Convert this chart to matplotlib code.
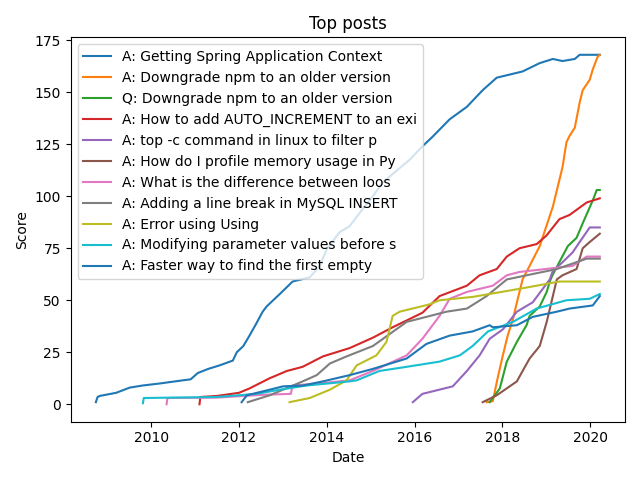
import numpy as np
import pandas as pd
import matplotlib

matplotlib.use("Agg")
import matplotlib.pyplot as plt

# Titles of the posts (truncated as in the source chart)
titles = [
    "A: Getting Spring Application Context",
    "A: Downgrade npm to an older version",
    "Q: Downgrade npm to an older version",
    "A: How to add AUTO_INCREMENT to an exi",
    "A: top -c command in linux to filter p",
    "A: How do I profile memory usage in Py",
    "A: What is the difference between loos",
    "A: Adding a line break in MySQL INSERT",
    "A: Error using Using",
    "A: Modifying parameter values before s",
    "A: Faster way to find the first empty",
]

# Decimal-year time stamps and cumulative scores
spring_t = [2008.74, 2008.78, 2008.83, 2009.2, 2009.51, 2009.8, 2010.2, 2010.72, 2010.9,
            2011.06, 2011.3, 2011.56, 2011.86, 2011.95, 2012.1, 2012.24, 2012.4, 2012.54,
            2012.63, 2012.93, 2013.22, 2013.61, 2013.84, 2014.0, 2014.29, 2014.52, 2014.82,
            2015.05, 2015.27, 2015.89, 2016.18, 2016.41, 2016.8, 2017.19, 2017.55, 2017.87,
            2018.46, 2018.85, 2019.15, 2019.37, 2019.65, 2019.76, 2020.22]
spring_s = [1, 3.5, 4, 5.5, 8, 9, 10, 11.5, 12, 15, 17, 18.7, 21, 25, 28, 33, 39, 44.5,
            47, 53, 59, 61, 66.5, 74.6, 82.7, 85.6, 94, 100, 106.6, 117.6, 124, 128.6, 137,
            143, 151, 157, 160, 164, 166, 165, 166, 168, 168]

npm_a_t = [2017.64, 2017.78, 2017.89, 2018.01, 2018.12, 2018.24, 2018.35, 2018.46, 2018.85,
           2019.15, 2019.37, 2019.46, 2019.53, 2019.65, 2019.76, 2019.83, 2019.99, 2020.06,
           2020.17, 2020.22]
npm_a_s = [1, 1.5, 12.5, 23.5, 33, 41, 50.7, 60, 76, 95, 114, 126, 129, 133, 145, 151,
           156, 161, 167, 168]

npm_q_t = [2017.71, 2017.94, 2018.1, 2018.33, 2018.55, 2018.62, 2018.85, 2019.01, 2019.08,
           2019.14, 2019.49, 2019.69, 2019.83, 2020.06, 2020.15, 2020.22]
npm_q_s = [1, 7.6, 20.5, 30, 38, 42.5, 47, 54, 59, 62, 76, 80, 87, 98, 103, 103]

auto_t = [2011.1, 2011.12, 2011.5, 2012.0, 2012.24, 2012.7, 2013.09, 2013.45, 2013.91,
          2014.52, 2015.05, 2015.5, 2016.18, 2016.57, 2017.19, 2017.48, 2017.87, 2018.1,
          2018.39, 2018.78, 2019.0, 2019.3, 2019.53, 2019.92, 2020.22]
auto_s = [0, 3.5, 4, 5.5, 7.6, 12.5, 16, 18, 23, 27, 32, 37, 44, 52, 57, 62, 65, 71,
          75, 77, 81, 89, 91, 97, 99]

top_t = [2015.96, 2016.18, 2016.87, 2017.19, 2017.48, 2017.71, 2018.01, 2018.33, 2018.69,
         2018.92, 2019.08, 2019.14, 2019.6, 2019.76, 2019.99, 2020.22]
top_s = [1, 5, 8.6, 16, 23.5, 31.5, 36, 44.5, 49, 55.5, 60, 63.6, 73, 78, 85, 85]

mem_t = [2017.55, 2017.87, 2018.33, 2018.46, 2018.62, 2018.85, 2019.01, 2019.15, 2019.24,
         2019.37, 2019.69, 2019.83, 2019.99, 2020.22]
mem_s = [1, 4.3, 11, 16, 22, 28, 39.6, 52, 60, 62, 65, 75, 78, 82]

loos_t = [2010.35, 2010.37, 2011.5, 2012.5, 2013.18, 2013.22, 2013.8, 2014.52, 2015.05,
          2015.82, 2016.18, 2016.57, 2016.8, 2017.19, 2017.78, 2018.1, 2018.39, 2019.6,
          2019.92, 2020.22]
loos_s = [0, 3, 3.2, 4.5, 5, 9, 10, 11.5, 16, 23.5, 31.5, 42.5, 50.7, 54, 57, 62, 63.6,
          66.5, 71, 71]

mysql_t = [2012.2, 2012.7, 2013.45, 2013.77, 2014.07, 2014.45, 2015.05, 2015.82, 2016.73,
           2017.19, 2017.64, 2018.1, 2018.55, 2019.24, 2019.92, 2020.22]
mysql_s = [1, 4.3, 11, 14, 19.6, 23, 28, 39.6, 44.5, 46, 52, 60, 62, 65, 70, 70]

using_t = [2013.15, 2013.61, 2014.07, 2014.45, 2014.68, 2015.13, 2015.36, 2015.5, 2015.66,
           2016.34, 2016.57, 2017.32, 2018.39, 2019.3, 2020.22]
using_s = [1, 3, 7, 11.5, 18.7, 23.5, 30, 42.5, 44.5, 48, 50, 51.6, 55.5, 59, 59]

param_t = [2009.81, 2009.83, 2011.5, 2012.4, 2012.93, 2013.54, 2014.52, 2014.68, 2015.2,
           2015.82, 2016.57, 2017.03, 2017.32, 2017.67, 2018.24, 2018.78, 2019.46, 2019.99,
           2020.22]
param_s = [0.5, 3, 3.5, 5, 7, 9, 11, 11.5, 16, 18, 20.5, 23.5, 28, 35, 39.6, 46, 50,
           50.7, 53]

empty_t = [2012.06, 2012.18, 2012.7, 2013.0, 2013.45, 2013.91, 2014.52, 2015.05, 2015.82,
           2016.27, 2016.8, 2017.32, 2017.71, 2017.78, 2018.33, 2018.69, 2019.24, 2019.53,
           2020.06, 2020.22]
empty_s = [1, 4.3, 7, 8.6, 9, 11, 14, 17, 22, 29, 33, 35, 38, 37, 38, 42, 44.5, 46,
           47.5, 52]

series = [
    (spring_t, spring_s), (npm_a_t, npm_a_s), (npm_q_t, npm_q_s), (auto_t, auto_s),
    (top_t, top_s), (mem_t, mem_s), (loos_t, loos_s), (mysql_t, mysql_s),
    (using_t, using_s), (param_t, param_s), (empty_t, empty_s),
]


def to_dates(years):
    """Decimal years -> timestamps."""
    out = []
    for y in years:
        base = pd.Timestamp(year=int(y), month=1, day=1)
        out.append(base + pd.Timedelta(days=(y - int(y)) * 365.25))
    return out


fig, ax = plt.subplots(figsize=(6.4, 4.8), dpi=100)
for title, (t, s) in zip(titles, series):
    ax.plot(to_dates(t), s, label=title)

ax.set_title("Top posts")
ax.set_xlabel("Date")
ax.set_ylabel("Score")
ax.legend(loc="upper left")
fig.tight_layout()
fig.savefig("out.png")
plt.close(fig)
